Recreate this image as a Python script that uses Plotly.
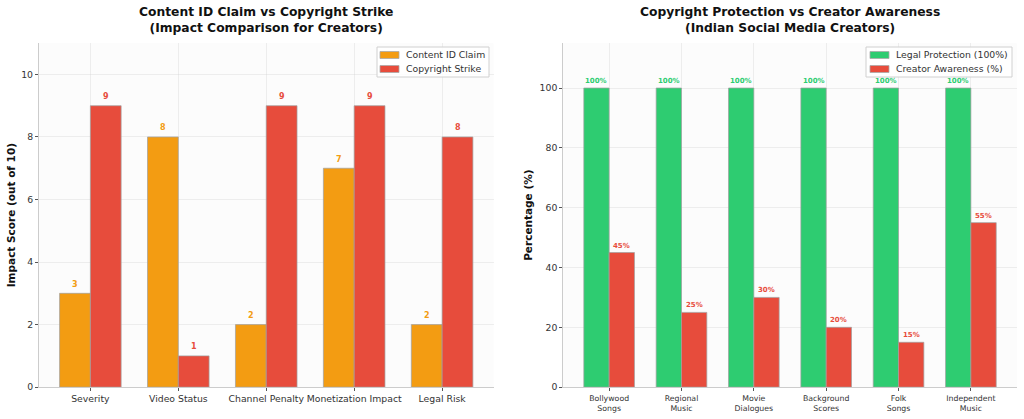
import plotly.graph_objects as go

# ---- Data ----
left_categories = ["Severity", "Video Status", "Channel Penalty", "Monetization Impact", "Legal Risk"]
content_id_claim = [3, 8, 2, 7, 2]
copyright_strike = [9, 1, 9, 9, 8]

right_categories = ["Bollywood<br>Songs", "Regional<br>Music", "Movie<br>Dialogues",
                    "Background<br>Scores", "Folk<br>Songs", "Independent<br>Music"]
legal_protection = [100, 100, 100, 100, 100, 100]
creator_awareness = [45, 25, 30, 20, 15, 55]

left_series_names = ["Content ID Claim", "Copyright Strike"]
right_series_names = ["Legal Protection (100%)", "Creator Awareness (%)"]

ORANGE = "#f39c12"
RED = "#e74c3c"
GREEN = "#2ecc71"
FONT = "DejaVu Sans"
W = 0.35
PW, PH = 1024, 419

fig = go.Figure()

li = list(range(len(left_categories)))
ri = list(range(len(right_categories)))

edge = dict(color="rgba(160,160,160,0.9)", width=0.8)

fig.add_trace(go.Bar(x=[i - W / 2 for i in li], y=content_id_claim, width=W,
                     name=left_series_names[0], marker=dict(color=ORANGE, line=edge),
                     xaxis="x", yaxis="y", hoverinfo="y"))
fig.add_trace(go.Bar(x=[i + W / 2 for i in li], y=copyright_strike, width=W,
                     name=left_series_names[1], marker=dict(color=RED, line=edge),
                     xaxis="x", yaxis="y", hoverinfo="y"))
fig.add_trace(go.Bar(x=[i - W / 2 for i in ri], y=legal_protection, width=W,
                     name=right_series_names[0], marker=dict(color=GREEN, line=edge),
                     xaxis="x2", yaxis="y2", hoverinfo="y"))
fig.add_trace(go.Bar(x=[i + W / 2 for i in ri], y=creator_awareness, width=W,
                     name=right_series_names[1], marker=dict(color=RED, line=edge),
                     xaxis="x2", yaxis="y2", hoverinfo="y"))

annotations = []
for i, v in zip(li, content_id_claim):
    annotations.append(dict(x=i - W / 2, y=v, xref="x", yref="y", text=f"<b>{v}</b>",
                            showarrow=False, yshift=9, font=dict(size=8, color=ORANGE, family=FONT)))
for i, v in zip(li, copyright_strike):
    annotations.append(dict(x=i + W / 2, y=v, xref="x", yref="y", text=f"<b>{v}</b>",
                            showarrow=False, yshift=9, font=dict(size=8, color=RED, family=FONT)))
for i, v in zip(ri, legal_protection):
    annotations.append(dict(x=i - W / 2, y=v, xref="x2", yref="y2", text=f"<b>{v}%</b>",
                            showarrow=False, yshift=7, font=dict(size=7, color=GREEN, family=FONT)))
for i, v in zip(ri, creator_awareness):
    annotations.append(dict(x=i + W / 2, y=v, xref="x2", yref="y2", text=f"<b>{v}%</b>",
                            showarrow=False, yshift=7, font=dict(size=7, color=RED, family=FONT)))

# Titles
annotations.append(dict(x=(0.038 + 0.482) / 2, y=1 - 20 / PH, xref="paper", yref="paper",
                        xanchor="center", yanchor="middle",
                        text="<b>Content ID Claim vs Copyright Strike<br>(Impact Comparison for Creators)</b>",
                        showarrow=False, font=dict(size=12.3, color="#111", family=FONT), align="center"))
annotations.append(dict(x=(0.550 + 0.993) / 2, y=1 - 20 / PH, xref="paper", yref="paper",
                        xanchor="center", yanchor="middle",
                        text="<b>Copyright Protection vs Creator Awareness<br>(Indian Social Media Creators)</b>",
                        showarrow=False, font=dict(size=12.3, color="#111", family=FONT), align="center"))

# Legends drawn in matplotlib style (compact box with wide patches)
shapes = []


def px(x):
    return x / PW


def py(y):
    return 1 - y / PH


def add_legend(box, patch_x, text_x, names, colors):
    x0, y0, x1, y1 = box
    shapes.append(dict(type="rect", xref="paper", yref="paper", x0=px(x0), x1=px(x1),
                       y0=py(y1), y1=py(y0), line=dict(color="#d0d0d0", width=1),
                       fillcolor="rgba(255,255,255,0.85)", layer="above"))
    for k, (name, col) in enumerate(zip(names, colors)):
        yc = y0 + 8 + 14 * k
        shapes.append(dict(type="rect", xref="paper", yref="paper", x0=px(patch_x), x1=px(patch_x + 19),
                           y0=py(yc + 3.5), y1=py(yc - 3.5), line=dict(color="#aaaaaa", width=0.8),
                           fillcolor=col, layer="above"))
        annotations.append(dict(x=px(text_x), y=py(yc), xref="paper", yref="paper", xanchor="left",
                                yanchor="middle", text=name, showarrow=False,
                                font=dict(size=9.3, color="#333", family=FONT)))


add_legend((377, 47, 489, 77), 380, 404, left_series_names, [ORANGE, RED])
add_legend((866, 47, 1012, 77), 870, 894, right_series_names, [GREEN, RED])

axis_common = dict(showline=True, linecolor="#cccccc", linewidth=1, ticks="outside",
                   ticklen=3, tickcolor="#555", showgrid=True, gridcolor="rgba(210,210,210,0.35)",
                   zeroline=False, tickfont=dict(size=9.3, color="#333", family=FONT), mirror=False,
                   automargin=False, tickangle=0)

fig.update_layout(
    width=PW, height=PH,
    margin=dict(l=0, r=0, t=0, b=0),
    paper_bgcolor="white",
    plot_bgcolor="#fcfcfc",
    barmode="overlay",
    font=dict(family=FONT),
    showlegend=False,
    annotations=annotations,
    shapes=shapes,
    xaxis=dict(domain=[0.038, 0.482], range=[-0.585, 4.585], tickvals=li, ticktext=left_categories,
               anchor="y", **axis_common),
    yaxis=dict(domain=[0.076, 0.897], range=[0, 11], tickvals=[0, 2, 4, 6, 8, 10], anchor="x",
               title=dict(text="<b>Impact Score (out of 10)</b>", font=dict(size=10.5, color="#111", family=FONT), standoff=3),
               **axis_common),
    xaxis2=dict(domain=[0.550, 0.993], range=[-0.635, 5.635], tickvals=ri, ticktext=right_categories,
                anchor="y2", **{**axis_common, "tickfont": dict(size=7.8, color="#333", family=FONT)}),
    yaxis2=dict(domain=[0.076, 0.897], range=[0, 115], tickvals=[0, 20, 40, 60, 80, 100], anchor="x2",
                title=dict(text="<b>Percentage (%)</b>", font=dict(size=10.5, color="#111", family=FONT), standoff=4),
                **axis_common),
)

fig.write_html("out.html", config={"displayModeBar": False},
               post_script="document.body.style.margin='0';document.body.style.padding='0';")
